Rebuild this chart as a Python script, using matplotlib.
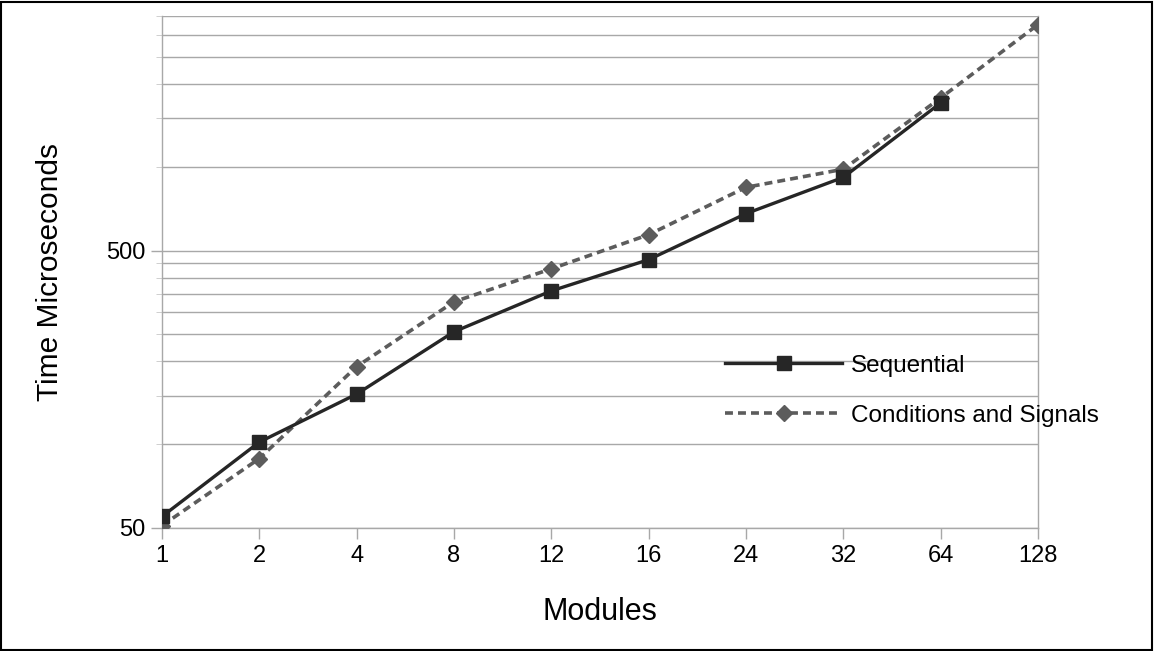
import numpy as np
import matplotlib.pyplot as plt
from matplotlib.ticker import FixedLocator, NullFormatter
from matplotlib.patches import Rectangle

plt.rcParams['font.family'] = ['Liberation Sans', 'DejaVu Sans']

modules = ['1', '2', '4', '8', '12', '16', '24', '32', '64', '128']
sequential = [55, 102, 152, 255, 358, 464, 680, 919, 1705]
cond_signals = [51, 89, 191, 327, 430, 571, 846, 983, 1777, 3266]

major_y = [50, 500]
minor_y = [100, 150, 200, 250, 300, 350, 400, 450,
           1000, 1500, 2000, 2500, 3000, 3500]

fig = plt.figure(figsize=(11.54, 6.51), dpi=100)
ax = fig.add_axes([0.1404, 0.189, 0.7591, 0.786])

x = np.arange(len(modules))
ax.plot(x[:len(sequential)], sequential, color='#262626', lw=2.4,
        marker='s', markersize=9.5, label='Sequential', zorder=4)
ax.plot(x, cond_signals, color='#5c5c5c', lw=2.6, linestyle=(0, (2.2, 1.4)),
        marker='D', markersize=8.5, label='Conditions and Signals', zorder=3)

ax.set_yscale('log')
ax.set_ylim(50, 3500)
ax.set_xlim(0, len(modules) - 1)
ax.yaxis.set_major_locator(FixedLocator(major_y))
ax.yaxis.set_minor_locator(FixedLocator(minor_y))
ax.set_yticklabels([str(v) for v in major_y])
ax.yaxis.set_minor_formatter(NullFormatter())
ax.set_xticks(x)
ax.set_xticklabels(modules)

ax.grid(axis='y', which='both', color='#a8a8a8', lw=1.0)
ax.set_axisbelow(True)
ax.spines['top'].set_visible(False)
for side in ['left', 'right', 'bottom']:
    ax.spines[side].set_color('#a8a8a8')
    ax.spines[side].set_linewidth(1.0)

ax.tick_params(axis='both', which='major', labelsize=17, length=8, width=1,
               color='#a8a8a8', labelcolor='black', pad=4)
ax.tick_params(axis='y', which='minor', length=4, color='#c8c8c8')

ax.set_xlabel('Modules', fontsize=22, labelpad=22)
ax.set_ylabel('Time Microseconds', fontsize=21.5, labelpad=30)

ax.legend(loc='center left', bbox_to_anchor=(0.643, 0.268), frameon=False,
          fontsize=17.5, handlelength=4.8, labelspacing=1.15, handletextpad=0.37,
          borderpad=0, borderaxespad=0)

fig.patches.append(Rectangle((0.001, 0.002), 0.997, 0.995, transform=fig.transFigure,
                             fill=False, edgecolor='black', lw=1.5))

fig.savefig('out.png', dpi=100)
